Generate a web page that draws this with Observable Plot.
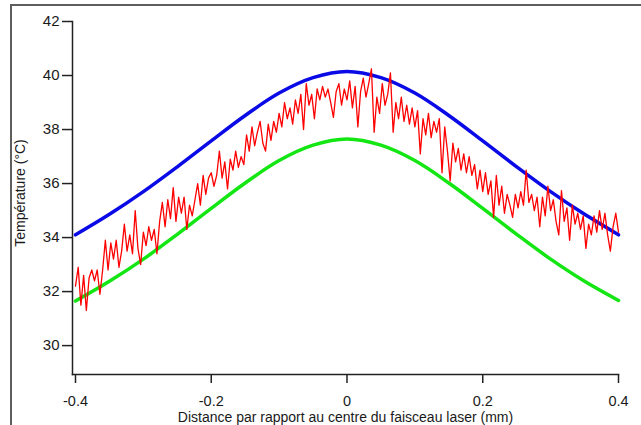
<!DOCTYPE html>
<html>
<head>
<meta charset="utf-8">
<script src="https://cdn.jsdelivr.net/npm/d3@7"></script>
<script src="https://cdn.jsdelivr.net/npm/@observablehq/plot@0.6"></script>
<style>
  html, body { margin: 0; padding: 0; background: #fff; }
  #wrap { position: relative; width: 641px; height: 425px; overflow: hidden; }
  #frame { position: absolute; left: 10px; top: 4px; width: 700px; height: 500px;
           border-top: 2px solid #5e5e5e; border-left: 2px solid #5e5e5e; pointer-events: none; }
  #chart { position: absolute; left: 0; top: 0; }
</style>
</head>
<body>
<div id="wrap"><div id="chart"></div><div id="frame"></div></div>
<script>
// Smooth model curves (read at 0.05 mm steps)
const curveX = [-0.4, -0.35, -0.3, -0.25, -0.2, -0.15, -0.1, -0.05, 0, 0.05, 0.1, 0.15, 0.2, 0.25, 0.3, 0.35, 0.4];
const blueT  = [34.1, 34.86, 35.7, 36.62, 37.58, 38.52, 39.35, 39.92, 40.15, 39.92, 39.35, 38.52, 37.58, 36.62, 35.7, 34.86, 34.1];
const greenT = [31.65, 32.38, 33.2, 34.12, 35.08, 36.02, 36.85, 37.42, 37.65, 37.42, 36.85, 36.02, 35.08, 34.12, 33.2, 32.38, 31.67];

// Measured (noisy) temperature, sampled every 0.004 mm from -0.4 mm
const redStart = -0.4;
const redStep = 0.004;
const redT = [
  32.2, 32.9, 31.5, 32.6, 31.3, 32.5, 32.8, 32.4, 32.8, 31.9, 32.8, 33.9, 32.8, 33.8, 33.2, 33.9, 32.9, 33.5, 34.5, 33.5, 34.1, 33.4, 35.0, 33.6, 33.0,
  34.2, 33.7, 34.4, 33.9, 34.3, 33.4, 34.6, 35.3, 34.4, 35.4, 34.7, 35.85, 34.6, 35.5, 34.9, 35.5, 34.3, 35.2, 34.8, 35.4, 36.0, 35.2, 36.3, 35.6, 36.2,
  36.4, 35.9, 36.3, 37.2, 36.2, 36.8, 35.8, 36.9, 36.5, 37.2, 36.6, 37.0, 36.7, 37.8, 37.2, 38.1, 37.4, 37.9, 38.3, 37.5, 37.2, 38.2, 37.6, 38.3, 37.9,
  38.6, 38.1, 39.0, 38.4, 38.8, 38.2, 39.1, 38.6, 39.3, 38.0, 39.7, 38.9, 39.3, 38.4, 39.5, 39.1, 39.6, 39.2, 39.5, 39.0, 38.45, 39.4, 39.7, 38.9, 39.5,
  39.1, 39.8, 38.8, 39.6, 38.1, 39.4, 39.9, 39.2, 39.7, 40.25, 37.9, 39.2, 38.6, 39.7, 38.9, 39.3, 40.1, 37.9, 39.0, 38.4, 39.2, 38.3, 38.9, 38.2, 38.8,
  38.1, 38.7, 37.1, 38.4, 37.8, 38.6, 37.7, 38.3, 37.9, 38.4, 36.4, 38.1, 37.2, 36.1, 37.5, 36.8, 37.3, 36.5, 37.1, 36.4, 37.0, 36.3, 36.7, 35.8, 36.5,
  35.7, 36.4, 35.6, 36.1, 34.75, 36.3, 35.2, 35.9, 34.9, 35.6, 35.2, 34.75, 35.6, 35.1, 35.7, 35.2, 36.5, 35.3, 35.6, 35.0, 35.5, 34.4, 35.5, 34.8, 35.9,
  35.0, 35.4, 34.6, 34.1, 35.74, 34.6, 35.1, 33.9, 35.2, 34.5, 34.9, 34.3, 34.8, 33.6, 34.5, 34.1, 34.8, 34.2, 35.0, 34.3, 34.9, 34.1, 33.5, 34.4, 34.9, 34.2
];

const xTicks = [-0.4, -0.2, 0, 0.2, 0.4];
const yTicks = [30, 32, 34, 36, 38, 40, 42];
const xTitle = "Distance par rapport au centre du faisceau laser (mm)";
const yTitle = "Température (°C)";

const blueData = curveX.map((x, i) => ({x, y: blueT[i]}));
const greenData = curveX.map((x, i) => ({x, y: greenT[i]}));
const redData = redT.map((y, i) => ({x: redStart + i * redStep, y}));

const font = "Liberation Sans, Arial, sans-serif";

const chart = Plot.plot({
  width: 641,
  height: 425,
  marginLeft: 72,
  marginRight: 23,
  marginTop: 21,
  marginBottom: 51,
  style: {fontFamily: font, fontSize: "14px", color: "#1a1a1a", background: "transparent"},
  x: {domain: [-0.4044, 0.4]},
  y: {domain: [28.93, 42]},
  marks: [
    Plot.frame({anchor: "left", stroke: "#222", strokeWidth: 1.5}),
    Plot.frame({anchor: "bottom", stroke: "#222", strokeWidth: 1.5}),
    Plot.axisY({ticks: yTicks, tickSize: 10, tickPadding: 3, tickFormat: d => String(d), label: null, stroke: "#222", strokeWidth: 1.5, fontSize: 15}),
    Plot.axisX({ticks: xTicks, tickSize: 9, tickPadding: 12, tickFormat: d => String(d), label: null, stroke: "#222", strokeWidth: 1.5, fontSize: 14.5}),
    Plot.line(greenData, {x: "x", y: "y", stroke: "#14e614", strokeWidth: 3.5, curve: "catmull-rom"}),
    Plot.line(blueData, {x: "x", y: "y", stroke: "#0a0ae6", strokeWidth: 3.5, curve: "catmull-rom"}),
    Plot.line(redData, {x: "x", y: "y", stroke: "#ff0000", strokeWidth: 1.3}),
    Plot.text([yTitle], {frameAnchor: "left", textAnchor: "middle", lineAnchor: "middle", dx: -52, dy: -5, rotate: -90, fontSize: 14, fill: "#1a1a1a"}),
    Plot.text([xTitle], {frameAnchor: "bottom", textAnchor: "middle", lineAnchor: "middle", dy: 43, fontSize: 14, fill: "#1a1a1a"})
  ]
});
document.getElementById("chart").appendChild(chart);
</script>
</body>
</html>
